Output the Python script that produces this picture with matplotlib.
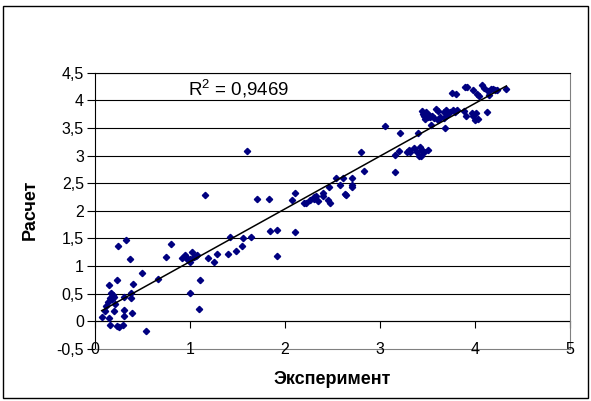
import numpy as np
import matplotlib
matplotlib.use("Agg")
import matplotlib.pyplot as plt
from matplotlib.patches import Rectangle

plt.rcParams['font.family'] = ['Liberation Sans', 'DejaVu Sans']
plt.rcParams['mathtext.fontset'] = 'custom'
plt.rcParams['mathtext.rm'] = 'Liberation Sans'
plt.rcParams['mathtext.it'] = 'Liberation Sans'

exp_x = [
    0.07, 0.11, 0.12, 0.14, 0.15, 0.15, 0.16, 0.16, 0.17, 0.18, 0.19, 0.20, 0.20, 0.21,
    0.23, 0.235, 0.24, 0.25, 0.29, 0.30, 0.30, 0.31, 0.33, 0.365, 0.375, 0.38, 0.385,
    0.395, 0.49, 0.54, 0.66,
    0.75, 0.805, 0.92, 0.945, 0.96, 0.97, 0.995, 1.0, 1.02, 1.04, 1.06, 1.07, 0.995,
    1.09, 1.10, 1.16, 1.19, 1.25, 1.28, 1.405, 1.425, 1.48, 1.55, 1.56, 1.60, 1.64,
    1.70, 1.83, 1.84, 1.92, 1.92, 2.07, 2.10, 2.10,
    2.20, 2.22, 2.26, 2.30, 2.31, 2.33, 2.35, 2.40, 2.40, 2.45, 2.47, 2.46, 2.54, 2.58,
    2.61, 2.63, 2.64, 2.70, 2.70, 2.70, 2.80, 2.835,
    3.05, 3.16, 3.16, 3.20, 3.21, 3.28, 3.30, 3.32, 3.36, 3.39, 3.40, 3.41, 3.42, 3.43,
    3.44, 3.46, 3.50,
    3.44, 3.45, 3.46, 3.47, 3.48, 3.50, 3.52, 3.53, 3.54, 3.55,
    3.57, 3.59, 3.61, 3.61, 3.63, 3.67, 3.67, 3.68, 3.69, 3.71, 3.74, 3.765, 3.79, 3.81,
    3.755, 3.80, 3.88, 3.895, 3.92, 3.905, 3.965, 3.975, 3.98, 4.0, 4.01, 4.02, 4.035,
    4.045, 4.07, 4.09, 4.13, 4.14, 4.15, 4.17, 4.19, 4.21, 4.23, 4.33,
]
calc_y = [
    0.08, 0.19, 0.27, 0.35, 0.07, 0.66, -0.06, 0.43, 0.51, 0.40, 0.47, 0.44, 0.18, 0.32,
    0.74, -0.09, 1.36, -0.11, -0.07, 0.45, 0.10, 0.20, 1.47, 1.13, 0.43, 0.52, 0.15,
    0.68, 0.87, -0.17, 0.77,
    1.16, 1.40, 1.14, 1.20, 1.17, 1.13, 1.08, 1.12, 1.26, 1.17, 1.18, 1.20, 0.51,
    0.22, 0.75, 2.28, 1.14, 1.07, 1.22, 1.22, 1.52, 1.27, 1.36, 1.50, 3.08, 1.52,
    2.21, 2.22, 1.64, 1.66, 1.175, 2.19, 2.33, 1.61,
    2.15, 2.14, 2.20, 2.25, 2.21, 2.26, 2.17, 2.33, 2.26, 2.20, 2.14, 2.44, 2.59, 2.47,
    2.59, 2.30, 2.29, 2.59, 2.47, 2.43, 3.07, 2.73,
    3.53, 2.70, 3.01, 3.09, 3.41, 3.06, 3.11, 3.07, 3.14, 3.07, 3.41, 3.00, 3.16, 3.00,
    3.10, 3.06, 3.10,
    3.80, 3.75, 3.72, 3.66, 3.78, 3.70, 3.74, 3.69, 3.56, 3.72,
    3.68, 3.84, 3.80, 3.65, 3.70, 3.78, 3.68, 3.50, 3.82, 3.74, 3.78, 3.82, 3.78, 3.83,
    4.14, 4.12, 3.80, 4.24, 4.24, 3.71, 3.77, 4.18, 3.71, 3.65, 3.77, 4.12, 3.66,
    4.07, 4.28, 4.22, 3.78, 4.17, 4.10, 4.21, 4.20, 4.18, 4.19, 4.20,
]

x_ticks = [0, 1, 2, 3, 4, 5]
x_tick_labels = ['0', '1', '2', '3', '4', '5']
y_ticks = [-0.5, 0, 0.5, 1, 1.5, 2, 2.5, 3, 3.5, 4, 4.5]
y_tick_labels = ['-0,5', '0', '0,5', '1', '1,5', '2', '2,5', '3', '3,5', '4', '4,5']
r2_text = 'R$^2$ = 0,9469'

x = np.array(exp_x)
y = np.array(calc_y)

fig = plt.figure(figsize=(5.91, 4.01), dpi=100)
W, H = 591, 401
ax = fig.add_axes([95 / W, 1 - 349 / H, (570 - 95) / W, (349 - 72.7) / H])

# chart border
fig.patches.append(Rectangle((3 / W, 3 / H), 585 / W, 392 / H, fill=False,
                             ec='black', lw=1, transform=fig.transFigure))

ax.set_xlim(0, 5)
ax.set_ylim(-0.5, 4.5)

for s in ['right', 'bottom']:
    ax.spines[s].set_color('#808080')
    ax.spines[s].set_linewidth(0.8)
ax.spines['top'].set_linewidth(0.8)
ax.spines['left'].set_linewidth(0.8)

# horizontal gridlines
yt = np.array(y_ticks)
ax.hlines(yt[yt > -0.5], 0, 5, color='black', lw=0.8, zorder=1)

ax.set_yticks(y_ticks)
ax.set_yticklabels(y_tick_labels, fontsize=11.5)
ax.tick_params(axis='y', direction='out', length=6, width=0.8, pad=2)

# x axis crossing at zero, labels sit on the low edge
ax.set_xticks(x_ticks)
ax.tick_params(axis='x', length=0, labelbottom=False)
sec = ax.secondary_xaxis((0 - (-0.5)) / 5)
sec.set_xticks(x_ticks)
sec.tick_params(direction='out', length=5, width=0.8, labelbottom=False)
sec.spines['bottom'].set_color('black')
sec.spines['bottom'].set_linewidth(0.8)
for t, lab in zip(x_ticks, x_tick_labels):
    ax.text(t, -0.5, lab, ha='center', va='center', fontsize=11.5, clip_on=False, zorder=4)

ax.plot(x, y, ls='none', marker='D', ms=3.2, color='#000080', mec='#000080', zorder=3)

coef = np.polyfit(x, y, 1)
xs = np.array([x.min(), x.max()])
ax.plot(xs, np.polyval(coef, xs), color='black', lw=1.1, zorder=3)

ax.text(0.98, 4.2, r2_text, ha='left', va='center', fontsize=13.5)

fig.text(332.5 / W, 1 - 380 / H, 'Эксперимент', ha='center', va='center',
         fontsize=13, fontweight='bold')
fig.text(30 / W, 1 - 210 / H, 'Расчет', ha='center', va='center', rotation=90,
         fontsize=13, fontweight='bold')

fig.savefig('out.png', dpi=100)
